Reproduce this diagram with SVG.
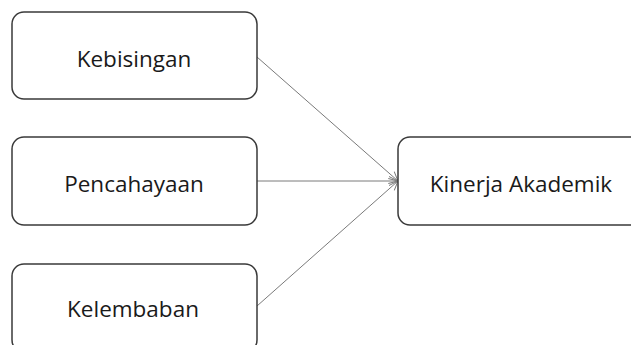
<svg xmlns="http://www.w3.org/2000/svg" width="631" height="345" viewBox="0 0 631 345">
<style>
.box{fill:#fff;stroke:#3a3a3a;stroke-width:1.5}
.lbl{font-family:"Open Sans","Noto Sans",sans-serif;font-size:22.5px;fill:#1a1a1a;text-anchor:middle}
.con{stroke:#7a7a7a;stroke-width:1;fill:none;marker-end:url(#arr)}
</style>
<defs>
<marker id="arr" markerWidth="12" markerHeight="12" refX="10" refY="6" orient="auto" markerUnits="userSpaceOnUse">
<path d="M1,1.5 L10,6 L1,10.5" fill="none" stroke="#7a7a7a" stroke-width="1"/>
</marker>
</defs>
<rect width="631" height="345" fill="#fff"/>
<g id="connectors">
<line class="con" x1="257" y1="57" x2="398" y2="181"/>
<line class="con" x1="257" y1="181" x2="398" y2="181"/>
<line class="con" x1="257" y1="306" x2="398" y2="181"/>
</g>
<g id="kebisingan">
<rect class="box" x="12" y="12" width="245" height="87" rx="12"/>
<text class="lbl" x="134" y="67">Kebisingan</text>
</g>
<g id="pencahayaan">
<rect class="box" x="12" y="137" width="245" height="88" rx="12"/>
<text class="lbl" x="134" y="192">Pencahayaan</text>
</g>
<g id="kelembaban">
<rect class="box" x="12" y="264" width="245" height="88" rx="12"/>
<text class="lbl" x="133" y="317">Kelembaban</text>
</g>
<g id="kinerja">
<rect class="box" x="398" y="137" width="245" height="88" rx="12"/>
<text class="lbl" x="521" y="192">Kinerja Akademik</text>
</g>
</svg>
